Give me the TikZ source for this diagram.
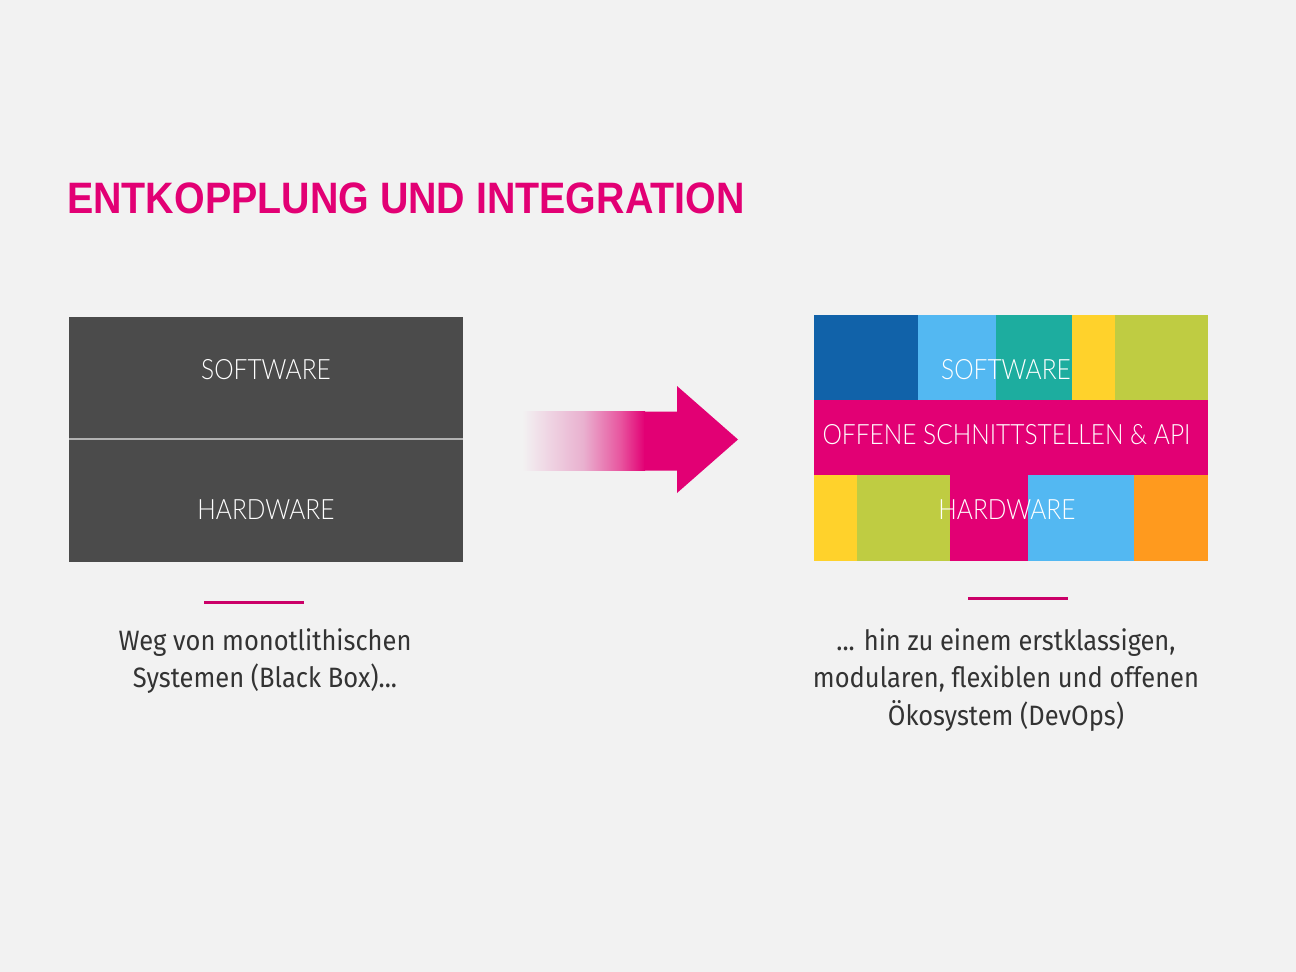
\documentclass[tikz,border=0pt]{standalone}
\usepackage{fontspec}
\setmainfont{Liberation Sans}
\newfontfamily\thinfont[UprightFont=* Light,FakeStretch=0.875]{Lato}
\newfontfamily\capfont[FakeStretch=0.91]{Fira Sans}
\newfontfamily\headfont[FakeStretch=0.895,BoldFont=*]{Liberation Sans Bold}
\definecolor{bgrey}{HTML}{F2F2F2}
\definecolor{magent}{HTML}{E20074}
\definecolor{dgrey}{HTML}{4B4B4B}
\definecolor{tblue}{HTML}{1162A9}
\definecolor{lblue}{HTML}{53B8F2}
\definecolor{teal}{HTML}{1DAD9F}
\definecolor{yell}{HTML}{FFD22B}
\definecolor{lime}{HTML}{BFCC42}
\definecolor{orng}{HTML}{FF9A1E}
\definecolor{fadea}{HTML}{F0DCE7}
\definecolor{fadeb}{HTML}{E9B0CF}
\definecolor{fadec}{HTML}{E8559F}
\pgfdeclarehorizontalshading{arrowfade}{100bp}{color(0bp)=(bgrey); color(25bp)=(bgrey); color(33bp)=(fadea); color(50bp)=(fadeb); color(65bp)=(fadec); color(75bp)=(magent); color(100bp)=(magent)}
\tikzset{
  box/.style={inner sep=0pt, outer sep=0pt, anchor=north west},
  lab/.style={text=white, font=\thinfont\fontsize{28}{28}\selectfont, inner sep=0pt},
  txt/.style={text=black!80, font=\capfont\fontsize{28}{37.5}\selectfont, align=center, inner sep=0pt},
  bar/.style={draw=magent!90!black, line width=3pt}
}
\begin{document}
\begin{tikzpicture}[x=1pt,y=-1pt]
\fill[bgrey] (0,0) rectangle (1296,972);
\useasboundingbox (0,0) rectangle (1296,972);
\node[anchor=west, inner sep=0pt, text=magent, font=\headfont\fontsize{44}{44}\selectfont] (title) at (67,198) {ENTKOPPLUNG UND INTEGRATION};
\node[box, fill=dgrey, minimum width=394pt, minimum height=122pt] (sw) at (69,317) {};
\node[box, fill=dgrey, minimum width=394pt, minimum height=122pt] (hw) at (69,440) {};
\draw[black!30, line width=1.6pt] (sw.south west) -- (sw.south east);
\node[lab] (swlab) at (266,370) {SOFTWARE};
\node[lab] (hwlab) at (266,510) {HARDWARE};
\shade[shading=arrowfade] (522,411.5) rectangle (645,470.5);
\fill[magent] (644,411.5) -- (677,411.5) -- (677,386) -- (738,439.5) -- (677,493) -- (677,470.5) -- (644,470.5) -- cycle;
\foreach \xa/\xb/\col in {814/918/tblue, 918/996/lblue, 996/1072/teal, 1072/1115/yell, 1115/1208/lime}
  \fill[\col] (\xa,315) rectangle (\xb,400);
\fill[magent] (814,400) rectangle (1208,475);
\foreach \xa/\xb/\col in {814/857/yell, 857/950/lime, 950/1028/magent, 1028/1134/lblue, 1134/1208/orng}
  \fill[\col] (\xa,475) rectangle (\xb,561);
\node[lab] (swtop) at (1006,370) {SOFTWARE};
\node[lab] (api) at (1006.5,435) {OFFENE SCHNITTSTELLEN \& API};
\node[lab] (hwbot) at (1007,510) {HARDWARE};
\draw[bar] (204,602) -- (304,602);
\draw[bar] (968,598) -- (1068,598);
\node[txt, anchor=north] (left) at (265,628) {Weg von monotlithischen\\Systemen (Black Box)...};
\node[txt, anchor=north] (right) at (1006,628) {... hin zu einem erstklassigen,\\modularen, flexiblen und offenen\\Ökosystem (DevOps)};
\end{tikzpicture}
\end{document}
